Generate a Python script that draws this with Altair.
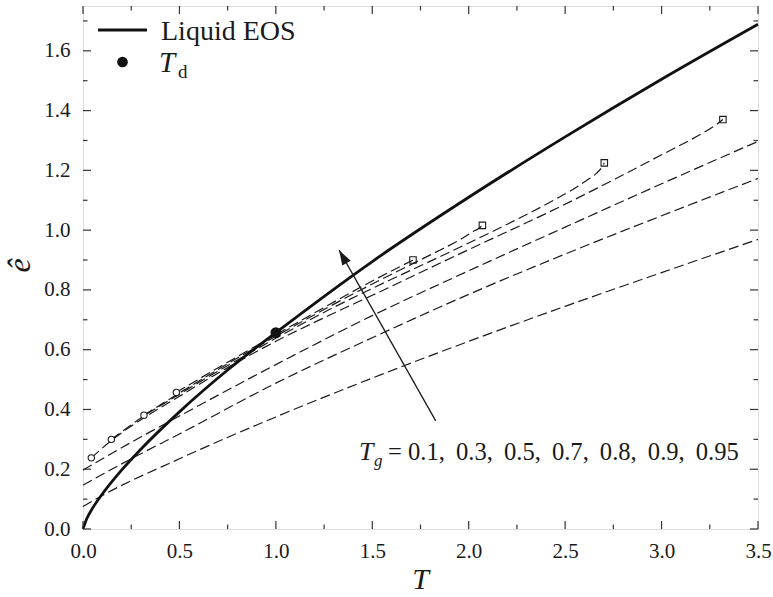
import altair as alt
import pandas as pd

# ---- Liquid equation of state ----
eos_T = [0, 0.02, 0.05, 0.1, 0.2, 0.3, 0.5, 0.75, 1.0, 1.5, 2.0, 2.5, 3.0, 3.5]
eos_e = [0, 0.035, 0.070, 0.117, 0.197, 0.267, 0.392, 0.532, 0.657, 0.895, 1.11, 1.312, 1.505, 1.689]

# dynamic transition point T_d
td_T = [1.0]
td_e = [0.657]

# ---- glass branches, one per T_g ----
tg_values = [0.1, 0.3, 0.5, 0.7, 0.8, 0.9, 0.95]

tg01_T = [0, 0.1, 0.5, 1.0, 1.5, 2.0, 2.5, 3.0, 3.5]
tg01_e = [0.075, 0.112, 0.235, 0.375, 0.505, 0.628, 0.745, 0.858, 0.969]

tg03_T = [0, 0.25, 0.5, 1.0, 1.5, 2.0, 2.5, 3.0, 3.5]
tg03_e = [0.147, 0.235, 0.318, 0.488, 0.64, 0.785, 0.92, 1.048, 1.173]

tg05_T = [0, 0.25, 0.5, 1.0, 1.5, 2.0, 2.5, 3.0, 3.5]
tg05_e = [0.197, 0.29, 0.378, 0.55, 0.714, 0.864, 1.01, 1.155, 1.297]

tg07_T = [0.043, 0.147, 0.316, 0.5, 0.75, 1.0, 1.28, 1.5, 2.0, 2.466, 3.0, 3.2, 3.27, 3.318]
tg07_e = [0.238, 0.296, 0.372, 0.444, 0.54, 0.628, 0.716, 0.782, 0.935, 1.076, 1.252, 1.32, 1.347, 1.37]

tg08_T = [0.147, 0.316, 0.5, 0.75, 1.0, 1.28, 1.5, 1.85, 2.2, 2.466, 2.55, 2.62, 2.662, 2.69, 2.703]
tg08_e = [0.300, 0.378, 0.451, 0.547, 0.638, 0.735, 0.805, 0.911, 1.02, 1.109, 1.14, 1.17, 1.19, 1.21, 1.225]

tg09_T = [0.316, 0.5, 0.75, 1.0, 1.28, 1.5, 1.85, 1.95, 2.022, 2.05, 2.071]
tg09_e = [0.381, 0.455, 0.553, 0.645, 0.745, 0.82, 0.933, 0.966, 0.995, 1.005, 1.016]

tg095_T = [0.484, 0.75, 1.0, 1.28, 1.5, 1.65, 1.711]
tg095_e = [0.457, 0.558, 0.65, 0.752, 0.83, 0.88, 0.90]

branch_T = [tg01_T, tg03_T, tg05_T, tg07_T, tg08_T, tg09_T, tg095_T]
branch_e = [tg01_e, tg03_e, tg05_e, tg07_e, tg08_e, tg09_e, tg095_e]
# branches that start / stop inside the window carry circle / square markers
marked = [False, False, False, True, True, True, True]

# arrow pointing toward increasing T_g
arrow_tail = (1.829, 0.362)
arrow_tip = (1.328, 0.933)

# axis ticks
x_major = [0.0, 0.5, 1.0, 1.5, 2.0, 2.5, 3.0, 3.5]
x_minor = [0.25, 0.75, 1.25, 1.75, 2.25, 2.75, 3.25]
y_major = [0.0, 0.2, 0.4, 0.6, 0.8, 1.0, 1.2, 1.4, 1.6]
y_minor = [0.1, 0.3, 0.5, 0.7, 0.9, 1.1, 1.3, 1.5, 1.7]

W, H = 675, 523
FONT = "Liberation Serif"
INK = "#1a1a1a"

xs = alt.Scale(domain=[0, 3.5], nice=False, zero=False)
ys = alt.Scale(domain=[0, 1.75], nice=False, zero=False)

x_axis = alt.Axis(values=x_major, format=".1f", title=None, ticks=False,
                  domain=False, grid=False, labelFont=FONT, labelFontSize=21,
                  labelColor=INK, labelPadding=11, labelFlush=False)
y_axis = alt.Axis(values=y_major, format=".1f", title=None, ticks=False,
                  domain=False, grid=False, labelFont=FONT, labelFontSize=21,
                  labelColor=INK, labelPadding=13, labelFlush=False)


def X(f):
    return alt.X(f, type="quantitative", scale=xs, axis=x_axis)


def Y(f):
    return alt.Y(f, type="quantitative", scale=ys, axis=y_axis)


eos_df = pd.DataFrame({"T": eos_T, "e": eos_e, "i": range(len(eos_T))})

rows = []
for tg, Ts, es in zip(tg_values, branch_T, branch_e):
    for i, (t, e) in enumerate(zip(Ts, es)):
        rows.append({"Tg": str(tg), "T": t, "e": e, "i": i})
branch_df = pd.DataFrame(rows)

starts = pd.DataFrame([{"T": Ts[0], "e": es[0]} for Ts, es, m in zip(branch_T, branch_e, marked) if m])
ends = pd.DataFrame([{"T": Ts[-1], "e": es[-1]} for Ts, es, m in zip(branch_T, branch_e, marked) if m])

branches = alt.Chart(branch_df).mark_line(
    color=INK, strokeWidth=1.2, strokeDash=[10, 4.5], interpolate="monotone"
).encode(x=X("T"), y=Y("e"), detail="Tg:N", order="i:Q")

eos = alt.Chart(eos_df).mark_line(
    color="#111", strokeWidth=2.8, interpolate="monotone"
).encode(x=X("T"), y=Y("e"), order="i:Q")

start_pts = alt.Chart(starts).mark_point(
    shape="circle", size=40, fill="white", stroke=INK, strokeWidth=1.1, opacity=1
).encode(x=X("T"), y=Y("e"))

end_pts = alt.Chart(ends).mark_point(
    shape="square", size=42, filled=False, stroke=INK, strokeWidth=1.1, opacity=1
).encode(x=X("T"), y=Y("e"))

td = alt.Chart(pd.DataFrame({"T": td_T, "e": td_e})).mark_point(
    shape="circle", size=115, filled=True, color="#111", opacity=1
).encode(x=X("T"), y=Y("e"))

arrow_df = pd.DataFrame({"T0": [arrow_tail[0]], "e0": [arrow_tail[1]],
                         "T1": [arrow_tip[0]], "e1": [arrow_tip[1]]})
arrow_shaft = alt.Chart(arrow_df).mark_rule(color=INK, strokeWidth=1.3).encode(
    x=X("T0"), y=Y("e0"), x2="T1", y2="e1")
arrow_head = alt.Chart(arrow_df).mark_point(
    shape="M0,0L-0.65,2L0.65,2Z", size=225, filled=True, color=INK, opacity=1, angle=330.5
).encode(x=X("T1"), y=Y("e1"))


# inward ticks on all four sides
def ticks(values, side, length):
    df = pd.DataFrame({"v": values})
    base = alt.Chart(df).mark_rule(color="#333", strokeWidth=1.2)
    if side == "bottom":
        return base.encode(x=X("v"), y=alt.value(H), y2=alt.value(H - length))
    if side == "top":
        return base.encode(x=X("v"), y=alt.value(0), y2=alt.value(length))
    if side == "left":
        return base.encode(y=Y("v"), x=alt.value(0), x2=alt.value(length))
    return base.encode(y=Y("v"), x=alt.value(W), x2=alt.value(W - length))


tick_layers = []
for side in ["bottom", "top"]:
    tick_layers.append(ticks(x_major, side, 8))
    tick_layers.append(ticks(x_minor, side, 4.5))
for side in ["left", "right"]:
    tick_layers.append(ticks(y_major, side, 8))
    tick_layers.append(ticks(y_minor, side, 4.5))

one = pd.DataFrame({"k": [0]})


def label(text, x, y, size, style="normal", align="left", angle=0, baseline="alphabetic"):
    return alt.Chart(one).mark_text(
        text=text, font=FONT, fontSize=size, fontStyle=style, color=INK,
        align=align, baseline=baseline, angle=angle
    ).encode(x=alt.value(x), y=alt.value(y))


texts = [
    # axis titles
    label("T", W / 2, 583, 30, "italic", "center"),
    label("ê", -63, H / 2 - 2, 32, "italic", "center", angle=270, baseline="middle"),
    # annotation of the branch family
    label("T", 276, 454, 26, "italic"),
    label("g", 291, 460, 17, "italic"),
    label("= 0.1,\u2009 0.3,\u2009 0.5,\u2009 0.7,\u2009 0.8,\u2009 0.9,\u2009 0.95", 305, 454, 24.6),
    # legend
    label("Liquid EOS", 78, 40 - 6, 28),
    label("T", 76, 66, 29, "italic"),
    label("d", 95, 72, 19),
]

legend_line = alt.Chart(one).mark_rule(color="#111", strokeWidth=2.8).encode(
    x=alt.value(15), x2=alt.value(64), y=alt.value(24))
legend_dot = alt.Chart(one).mark_point(
    shape="circle", size=115, filled=True, color="#111", opacity=1
).encode(x=alt.value(39.5), y=alt.value(56))

chart = alt.layer(
    branches, eos, start_pts, end_pts, td, arrow_shaft, arrow_head,
    *tick_layers, *texts, legend_line, legend_dot,
).properties(
    width=W, height=H,
    autosize=alt.AutoSizeParams(type="none"),
    padding={"left": 83, "top": 6, "right": 15, "bottom": 68},
).configure_view(
    stroke="#333", strokeWidth=1.6, fill="white"
).configure(background="white")

chart.save("out.html", embed_options={"renderer": "svg", "actions": False})
